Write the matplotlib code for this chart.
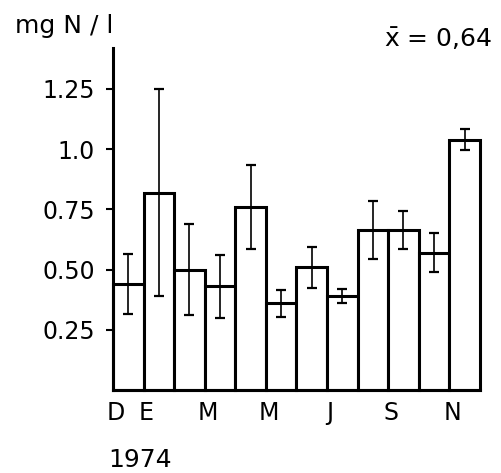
import matplotlib.pyplot as plt

# monthly means (Dec 1973 - Nov 1974) and their error bars
months = ['D', 'E', 'F', 'M', 'A', 'M', 'J', 'J', 'A', 'S', 'O', 'N']
shown = [0, 1, 3, 5, 7, 9, 11]
means = [0.44, 0.82, 0.50, 0.43, 0.76, 0.36, 0.51, 0.39, 0.665, 0.665, 0.57, 1.04]
errs = [0.125, 0.43, 0.19, 0.13, 0.175, 0.055, 0.085, 0.03, 0.12, 0.08, 0.08, 0.045]
yticks = [0.25, 0.50, 0.75, 1.0, 1.25]
ytick_labels = ['0.25', '0.50', '0.75', '1.0', '1.25']

plt.rcParams['font.family'] = 'DejaVu Sans'

fig = plt.figure(figsize=(5.02, 4.73), dpi=100)
ax = fig.add_axes([0.225, 0.1755, 0.731, 0.723])

x = list(range(len(months)))
bars = ax.bar(x, means, width=1.0, align='edge', color='white', edgecolor='black', linewidth=2.2)
for b in bars:
    b.set_clip_on(False)
ax.errorbar([i + 0.5 for i in x], means, yerr=errs, fmt='none', ecolor='black',
            elinewidth=1.2, capsize=3.5, capthick=1.6)

ax.set_xlim(0, 12)
ax.set_ylim(0, 1.42)
ax.spines['top'].set_visible(False)
ax.spines['right'].set_visible(False)
ax.spines['left'].set_linewidth(2.2)
ax.spines['bottom'].set_linewidth(2.2)

ax.set_yticks(yticks)
ax.set_yticklabels(ytick_labels, fontsize=17)
ax.tick_params(axis='y', length=5, width=1.5, pad=8)

ax.set_xticks([i + 0.1 for i in shown])
ax.set_xticklabels([months[i] for i in shown], fontsize=17)
ax.tick_params(axis='x', length=0, pad=8)

fig.text(0.03, 0.97, 'mg N / l', fontsize=18, va='top', ha='left')
fig.text(0.98, 0.945, r'$\bar{\mathrm{x}}$ = 0,64', fontsize=18, va='top', ha='right')
fig.text(0.215, 0.003, '1974', fontsize=18, va='bottom', ha='left')

fig.savefig('out.png', dpi=100)
